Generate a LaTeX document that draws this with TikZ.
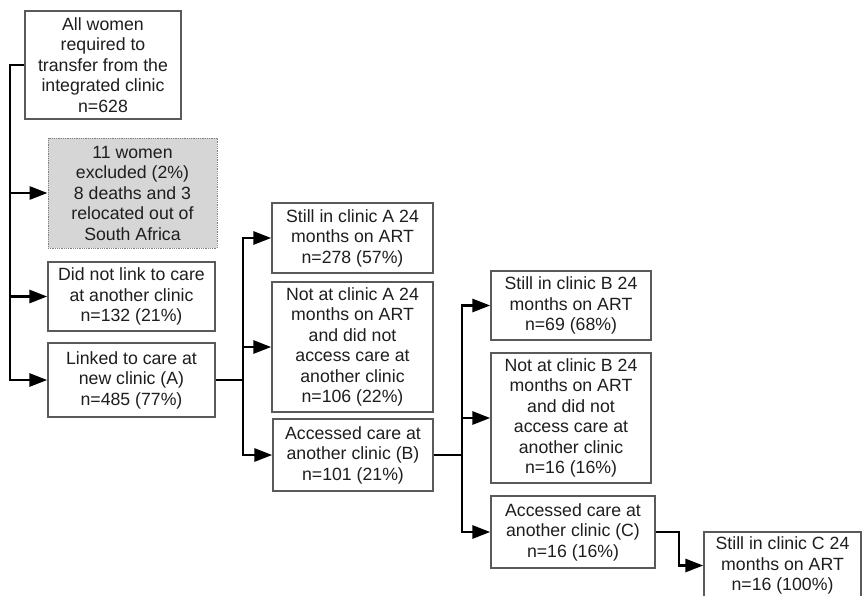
\documentclass[tikz,border=0pt]{standalone}
\usepackage{fontspec}
\setmainfont{Liberation Sans}
\usetikzlibrary{arrows.meta}
\definecolor{boxline}{HTML}{5A5A5A}
\definecolor{txt}{HTML}{1E1E1E}
\definecolor{grayfill}{HTML}{D6D6D6}
\begin{document}
\begin{tikzpicture}[x=1pt,y=-1pt,
  box/.style={draw=boxline, line width=1.4pt, fill=white, align=center, inner sep=0pt,
    font=\fontsize{17.7}{20.5}\selectfont, text=txt},
  graybox/.style={box, fill=grayfill, draw=gray, line width=1pt, dash pattern=on 1pt off 0.8pt},
  conn/.style={draw=black, line width=2.9pt},
  arr/.style={conn, -{Triangle[length=18pt,width=13pt]}}]
\useasboundingbox (0,0) rectangle (862,595);
\clip (0,0) rectangle (862,595);

\node[box, minimum width=156pt, minimum height=108pt] (top) at (103,65)
  {All women\\required to\\transfer from the\\integrated clinic\\n=628};
\node[graybox, minimum width=169pt, minimum height=110pt] (excl) at (132.5,193)
  {11 women\\excluded (2\%)\\8 deaths and 3\\relocated out of\\South Africa};
\node[box, minimum width=167pt, minimum height=69pt] (nolink) at (131.5,296.5)
  {Did not link to care\\at another clinic\\n=132 (21\%)};
\node[box, minimum width=167pt, minimum height=74pt] (linked) at (131.5,380)
  {Linked to care at\\new clinic (A)\\n=485 (77\%)};

\node[box, minimum width=161pt, minimum height=70pt] (stillA) at (352.5,238)
  {Still in clinic A 24\\months on ART\\n=278 (57\%)};
\node[box, minimum width=161pt, minimum height=130pt] (notA) at (352.5,347)
  {Not at clinic A 24\\months on ART\\and did not\\access care at\\another clinic\\n=106 (22\%)};
\node[box, minimum width=160pt, minimum height=72pt] (accB) at (353,455)
  {Accessed care at\\another clinic (B)\\n=101 (21\%)};

\node[box, minimum width=160pt, minimum height=69pt] (stillB) at (571,305.5)
  {Still in clinic B 24\\months on ART\\n=69 (68\%)};
\node[box, minimum width=160pt, minimum height=130pt] (notB) at (571,418)
  {Not at clinic B 24\\months on ART\\and did not\\access care at\\another clinic\\n=16 (16\%)};
\node[box, minimum width=164pt, minimum height=72pt] (accC) at (573,532)
  {Accessed care at\\another clinic (C)\\n=16 (16\%)};

\node[box, minimum width=157pt, minimum height=67pt] (stillC) at (782.5,565.5)
  {Still in clinic C 24\\months on ART\\n=16 (100\%)};

% trunk 1
\coordinate (t1) at (10,65);
\draw[arr] (top.west) -- (t1) |- (linked.west);
\draw[arr] (t1 |- excl.west) -- (excl.west);
\draw[arr] (t1 |- nolink.west) -- (nolink.west);

% trunk 2
\coordinate (t2) at (243,380);
\draw[conn] (linked.east) -- (t2);
\draw[arr] (t2) |- (stillA.west);
\draw[arr] (t2) |- (accB.west);
\draw[arr] (t2 |- notA.west) -- (notA.west);

% trunk 3
\coordinate (t3) at (462,455);
\draw[conn] (accB.east) -- (t3);
\draw[arr] (t3) |- (stillB.west);
\draw[arr] (t3) |- (accC.west);
\draw[arr] (t3 |- notB.west) -- (notB.west);

% last
\coordinate (t4) at (679,532);
\draw[arr] (accC.east) -- (t4) |- (stillC.west);
\end{tikzpicture}
\end{document}
